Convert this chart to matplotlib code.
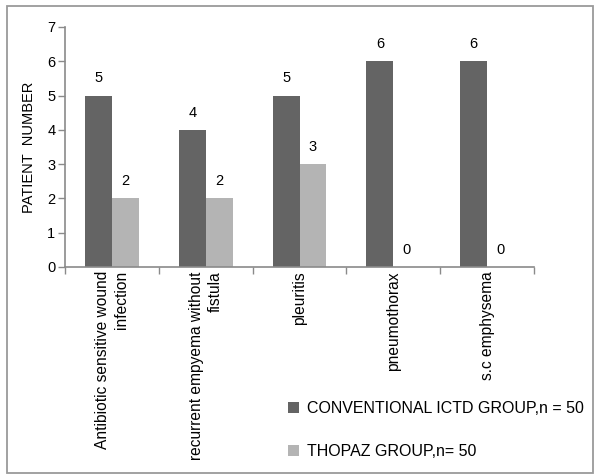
import numpy as np
import matplotlib.pyplot as plt
from matplotlib.patches import Rectangle

plt.rcParams['font.family'] = ['Liberation Sans', 'DejaVu Sans']

categories = ["Antibiotic sensitive wound\ninfection",
              "recurrent empyema without\nfistula",
              "pleuritis",
              "pneumothorax",
              "s.c emphysema"]
conventional = [5, 4, 5, 6, 6]
thopaz = [2, 2, 3, 0, 0]
series_names = ["CONVENTIONAL ICTD GROUP,n = 50", "THOPAZ GROUP,n= 50"]

dark = "#646464"
light = "#b4b4b4"
axis_col = "#8a8a8a"

fig = plt.figure(figsize=(5.94, 4.74), dpi=100)
ax = fig.add_axes([65 / 594, 1 - 267 / 474, 469 / 594, 240 / 474])

x = np.arange(len(categories))
w = 0.287
b1 = ax.bar(x - w / 2, conventional, w, color=dark, label=series_names[0])
b2 = ax.bar(x + w / 2, thopaz, w, color=light, label=series_names[1])

for bars, vals in ((b1, conventional), (b2, thopaz)):
    for bar, v in zip(bars, vals):
        ax.annotate(str(v), (bar.get_x() + bar.get_width() / 2, v),
                    xytext=(0, 9.5), textcoords="offset points",
                    ha="center", va="baseline", fontsize=10.5)

ax.set_xlim(-0.5, len(categories) - 0.5)
ax.set_ylim(0, 7)
ax.set_yticks(range(8))
ax.tick_params(axis="y", direction="out", length=5, width=1, color=axis_col,
               labelsize=10.5, pad=2)

ax.set_xticks(x)
ax.set_xticklabels(categories, rotation=90, fontsize=11.2, linespacing=1.3,
                   multialignment="right")
ax.tick_params(axis="x", which="major", length=0, pad=3)
ax.set_xticks(np.arange(-0.5, len(categories)), minor=True)
ax.tick_params(axis="x", which="minor", direction="out", length=5, width=1,
               color=axis_col)

for side in ("top", "right"):
    ax.spines[side].set_visible(False)
for side in ("left", "bottom"):
    ax.spines[side].set_color(axis_col)
    ax.spines[side].set_linewidth(1.2)

ax.set_ylabel("PATIENT  NUMBER", fontsize=10.5, labelpad=8)

fig.legend(handles=[b1, b2], loc="upper left",
           bbox_to_anchor=(282 / 594, 1 - 395 / 474), frameon=False,
           fontsize=11.5, handlelength=0.65, handleheight=0.65,
           handletextpad=0.5, labelspacing=1.75, borderaxespad=0)

# outer frame around the whole chart
fig.patches.append(Rectangle((7 / 594, 1 / 474), 586 / 594, 467 / 474,
                             transform=fig.transFigure, fill=False,
                             edgecolor="#9a9a9a", linewidth=1.3))

fig.savefig("out.png", dpi=100)
